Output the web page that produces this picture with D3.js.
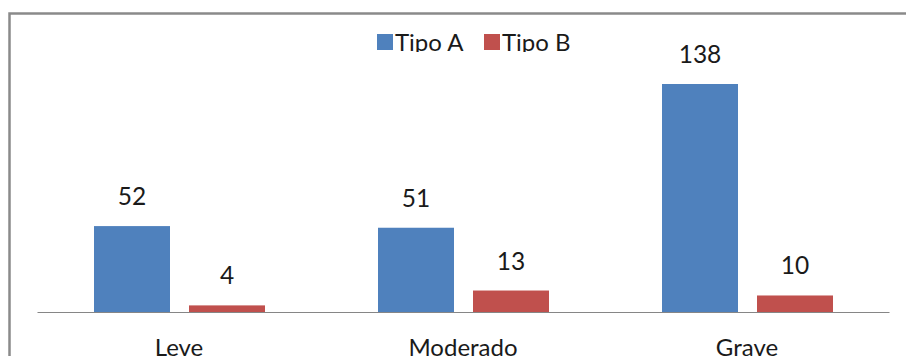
<!DOCTYPE html>
<html>
<head>
<meta charset="utf-8">
<script src="https://cdn.jsdelivr.net/npm/d3@7"></script>
<style>
  html, body { margin: 0; padding: 0; background: #fff; }
  svg { display: block; }
  text { font-family: Lato, "Liberation Sans", sans-serif; fill: #1a1a1a; }
</style>
</head>
<body>
<script>
// Chart data
const categories = ["Leve", "Moderado", "Grave"];
const seriesNames = ["Tipo A", "Tipo B"];
const tipoA = [52, 51, 138];
const tipoB = [4, 13, 10];
const seriesColors = ["#4F81BD", "#C0504D"];

const W = 906, H = 356;
const svg = d3.select("body").append("svg").attr("width", W).attr("height", H);

// Outer chart frame (only left and top edges fall inside the view)
svg.append("path")
  .attr("d", `M9.5,${H + 5} V13.5 H${W + 5}`)
  .attr("fill", "none")
  .attr("stroke", "#8a8a8a")
  .attr("stroke-width", 2.5);

const baseY = 312;
const x0 = d3.scaleBand().domain(categories).range([37, 889]);
const x1 = d3.scaleBand().domain(seriesNames).range([57, 228]).paddingInner(0.2);
const y = d3.scaleLinear().domain([0, 140]).range([baseY, 80.7]);

const rows = categories.map((c, i) => ({ cat: c, values: [tipoA[i], tipoB[i]] }));

const groups = svg.selectAll("g.cat").data(rows).join("g")
  .attr("class", "cat")
  .attr("transform", d => `translate(${x0(d.cat)},0)`);

groups.selectAll("rect").data(d => d.values.map((v, j) => ({ s: seriesNames[j], v, j })))
  .join("rect")
  .attr("x", d => x1(d.s))
  .attr("y", d => y(d.v))
  .attr("width", x1.bandwidth())
  .attr("height", d => baseY - y(d.v))
  .attr("fill", d => seriesColors[d.j]);

groups.selectAll("text.val").data(d => d.values.map((v, j) => ({ s: seriesNames[j], v })))
  .join("text")
  .attr("class", "val")
  .attr("x", d => x1(d.s) + x1.bandwidth() / 2)
  .attr("y", d => y(d.v) - 21)
  .attr("text-anchor", "middle")
  .attr("font-size", 24.5)
  .text(d => d.v);

// Category axis (labels run past the lower edge of the view)
const axis = svg.append("g").attr("transform", `translate(0,${baseY})`)
  .call(d3.axisBottom(x0).tickSize(0).tickPadding(0));
axis.select(".domain").attr("stroke", "#868686").attr("stroke-width", 1.2);
axis.selectAll(".tick text")
  .attr("font-size", 24)
  .attr("font-family", "Lato, 'Liberation Sans', sans-serif")
  .attr("fill", "#1a1a1a")
  .attr("dy", null)
  .attr("y", 44);

// Legend (its lower edge is cut off by the plot area)
svg.append("clipPath").attr("id", "legclip")
  .append("rect").attr("x", 0).attr("y", 0).attr("width", W).attr("height", 52);
const legend = svg.append("g").attr("clip-path", "url(#legclip)");
const legX = [377, 484];
seriesNames.forEach((name, i) => {
  legend.append("rect")
    .attr("x", legX[i]).attr("y", 34)
    .attr("width", 16).attr("height", 16)
    .attr("fill", seriesColors[i]);
  legend.append("text")
    .attr("x", legX[i] + 18).attr("y", 51)
    .attr("font-size", 24)
    .text(name);
});
</script>
</body>
</html>
